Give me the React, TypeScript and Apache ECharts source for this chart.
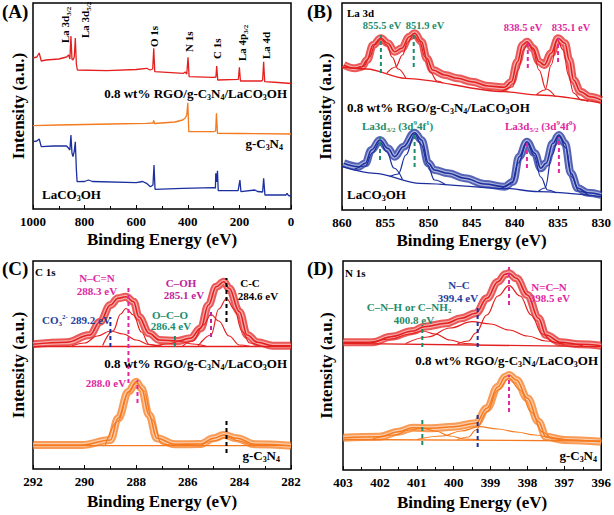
import React, { useEffect, useRef } from 'react';
import * as echarts from 'echarts';

const FONT = 'Liberation Serif';
const RED = '#e3201f';
const ORANGE = '#f57a1f';
const BLUE = '#1c2f9e';
const GREEN = '#1d8c6c';
const MAG = '#e2279f';
const BLUE_TXT = '#22409c';
const PURPLE = '#c0249a';

// ---------- Panel A : survey spectra [binding energy, intensity] ----------
const surveyComposite = [[1000,151],[985,152],[976,156],[968,148],[950,149],[900,150],[870,152],[862,154],[857,150],[853,173],[849,150],[845,149],[840,152],[836,171],[832,145],[828,139],[714,138.3],[600,139.5],[559,140.7],[547,139],[536,140],[532,160.7],[528,137.3],[417,135.7],[410,137],[404,135],[399,151.7],[395,132.3],[301,131.7],[291,132],[288,143],[284,129],[204,129.7],[200,141.7],[196,128],[114,128],[110,129],[106,147.3],[102,127.3],[50,126.5],[0,125.5]];
const surveyGC3N4 = [[1000,83.3],[900,84],[800,84.5],[700,85],[560,85.7],[535,86],[532,88.5],[529,85.5],[450,87],[420,89],[410,91],[404,94],[400,106.3],[396,77.3],[300,77.3],[292,78],[289,95.7],[285,75.7],[200,75.5],[0,75]];
const surveyLaCO3OH = [[1000,67.3],[985,68],[976,70],[968,62.3],[920,63],[870,63],[862,60.7],[857,59],[853,74],[849,56],[845,52.3],[840,58],[836,67.3],[832,40],[829,27.3],[800,27.5],[785,29],[770,27.5],[600,26.3],[575,27.5],[560,25.7],[545,22.3],[535,24],[531,44],[527,19.7],[420,20.7],[300,21.3],[293,21],[291.5,35.7],[288,27],[285,38.3],[282,18.3],[205,18.3],[198,29],[194,17.3],[140,19],[130,17.5],[110,17],[106,30.7],[101,14],[20,14],[15,15.7],[10,13.5],[0,13]];

// ---------- Panel B : La 3d ----------
const laCompEnvelope = [[859.8,145],[858.5,141.7],[857.7,143.3],[857.1,150],[856.4,165],[855.5,171.7],[854.7,166.7],[853.9,158.3],[853.1,161.7],[852.2,173.3],[851.6,176.7],[850.8,168.3],[850.2,151.7],[849.5,140],[848.1,135],[846.6,131.7],[845.0,128.3],[843.1,124],[841.2,122.7],[840.4,128.3],[839.7,148.3],[839.1,165],[838.6,168.3],[837.9,161.7],[837.2,148.3],[836.6,145],[835.8,156.7],[835.0,171.7],[834.2,166.7],[833.7,150],[833.2,130],[832.4,118.3],[831.3,113.3],[830.0,110]];
const laCompBackground = [[860,143],[857.1,141],[852.7,131.7],[841.2,118.3],[837.3,115],[830,107]];
const laCompPeak1 = [[858.5,141.5],[857.5,143.5],[856.8,153],[856.2,165],[855.5,170.5],[854.8,165],[854.2,153],[853.5,141],[852.6,131.5]];
const laCompPeak2 = [[854.8,137],[853.8,143],[853.0,155],[852.4,168],[851.7,175],[851.0,168],[850.4,153],[849.8,138],[849.0,129],[848.3,127]];
const laCompPeak3 = [[841.5,118.5],[840.3,123],[839.6,140],[839.0,160],[838.5,167],[837.9,160],[837.2,140],[836.4,121],[835.3,113]];
const laCompPeak4 = [[837.5,115.2],[836.5,120],[835.8,145],[835.1,170],[834.4,160],[833.8,135],[833.2,117],[832.3,110],[831.5,108.6]];
const laRefEnvelope = [[859.8,46.7],[858.1,43.3],[857.3,46.7],[856.6,60],[855.6,70],[854.7,61.7],[853.9,53.3],[852.9,63.3],[851.6,77.3],[850.8,70],[850.0,46.7],[849.3,40],[847.7,36.7],[845.8,31.7],[843.5,26],[841.2,23.3],[840.2,28.3],[839.5,53.3],[838.6,68.3],[837.7,56.7],[837.0,41.7],[836.4,46.7],[835.6,66.7],[834.9,75],[834.2,66.7],[833.5,36.7],[832.7,21.7],[831.6,17.3],[830.0,15]];
const laRefBackground = [[860,43.3],[856.2,36.7],[851,26.7],[841.2,21.7],[837.3,18.3],[830,13.3]];
const laRefPeak1 = [[858.5,41],[857.3,44],[856.5,57],[855.6,68],[854.8,58],[854,42],[853,30.5]];
const laRefPeak2 = [[854.5,33.4],[853.5,36],[852.6,55],[851.6,76],[850.8,65],[850.1,45],[849.3,30],[848,25.2]];
const laRefPeak3 = [[841.5,22],[840.4,26],[839.6,47],[838.6,67],[837.8,55],[837.0,33],[836.2,20],[835.2,17]];
const laRefPeak4 = [[837.3,18.5],[836.5,22],[835.7,55],[834.9,74],[834.1,62],[833.4,33],[832.6,19],[831.5,15]];
// dashed markers [energy, from, to]
const laMarkGreen = [[855.5,137,175],[851.7,143,178],[855.6,50,73],[851.6,43,78]];
const laMarkMag = [[838.5,142,170],[835.0,148,172],[838.6,42,68],[834.9,37,73]];

// ---------- Panel C : C 1s ----------
const c1sCompEnvelope = [[292,124.7],[290.7,126.7],[289.8,134],[289.4,147.3],[289.0,164],[288.7,170.7],[288.4,172.3],[288.1,167.3],[287.9,152.3],[287.5,135.7],[287.1,129],[286.4,128],[285.9,130.7],[285.5,140.7],[285.2,164],[284.9,182.3],[284.6,187.3],[284.4,180.7],[284.0,157.3],[283.7,134],[283.3,126.7],[282.7,123.3],[282,123.3]];
const c1sCompBaseline = [[292,122.5],[282,122.5]];
const c1sCO3 = [[290.5,123],[290,126],[289.5,133],[289,138],[288.5,135],[288,129],[287.5,124.5],[287,122.8]];
const c1sNCN = [[289.3,123.5],[288.9,138],[288.6,155],[288.4,160.5],[288.1,154],[287.8,137],[287.5,124.5],[287.2,122.8]];
const c1sOCO = [[287.3,122.8],[286.8,125],[286.3,127.5],[285.8,125],[285.3,122.8]];
const c1sCOH = [[286.2,123],[285.8,128],[285.4,144],[285.1,154.5],[284.8,148],[284.4,133],[284.0,124],[283.6,122.6]];
const c1sCC = [[285.6,123],[285.1,134],[284.8,160],[284.5,170.5],[284.2,160],[283.9,138],[283.6,126],[283.2,122.7]];
const c1sRefEnvelope = [[292,24],[290.1,24],[289.0,29],[288.7,50.7],[288.3,77.3],[288.0,87.3],[287.8,80.7],[287.5,54],[287.2,30.7],[286.5,24.7],[285.5,25],[285.0,30.7],[284.6,34],[284.1,30.7],[283.4,24.7],[282,23.3]];
const c1sRefBaseline = [[292,23.3],[282,23.3]];
const c1sRefPeak1 = [[289.2,23.5],[288.7,48],[288.3,76],[288,86],[287.7,78],[287.4,50],[287.0,25],[286.5,23.3]];
const c1sRefPeak2 = [[285.5,23.5],[285,28],[284.5,32],[284,28],[283.5,24],[283,23.3]];
const c1sMarks = [
  [289.0,122,152,BLUE],[288.3,86,182,MAG],[287.95,66,89,MAG],[286.5,122,136,GREEN],
  [285.1,132,159,PURPLE],[284.5,147,191,'#000'],[284.5,16,49,'#000']
];

// ---------- Panel D : N 1s ----------
const n1sCompEnvelope = [[403,127.7],[402.2,127.7],[401.7,133.3],[401.1,139],[400.8,143.3],[400.2,146.7],[399.8,151.7],[399.4,156.7],[399.1,171.7],[398.8,188.3],[398.6,195.7],[398.5,196.7],[398.3,191.7],[398.0,175],[397.7,151.7],[397.5,135],[397.1,127.7],[396.6,125.7],[396.0,124.3]];
const n1sCompBaseline = [[403,126.7],[396,123.3]];
const n1sCompCNH = [[402.3,127.2],[401.7,131],[401.2,136],[400.85,139],[400.5,136],[400.1,130],[399.7,126.5],[399.3,125.5]];
const n1sCompNC = [[401.3,126.5],[400.7,133],[400.1,142],[399.5,148.3],[399.0,146],[398.5,140],[398.0,134],[397.5,129],[397.0,126],[396.5,124.5]];
const n1sCompNCN = [[399.9,126],[399.6,129],[399.4,137],[399.1,155],[398.8,174],[398.5,184.3],[398.2,174],[397.9,155],[397.6,136],[397.3,128],[397.0,125.5]];
const n1sRefEnvelope = [[403,32.3],[402.0,33.3],[401.5,38.3],[401.1,42.3],[400.6,41.7],[400.0,43.3],[399.4,46.7],[399.1,61.7],[398.8,83.3],[398.6,93.3],[398.5,95],[398.3,90],[398.0,71.7],[397.7,48.3],[397.5,33.3],[397.0,30],[396.0,28.3]];
const n1sRefBaseline = [[403,30.5],[396,29]];
const n1sRefCNH = [[402.2,31],[401.6,35],[401.2,40],[400.85,41.7],[400.5,39],[400.1,34],[399.7,31],[399.3,30.2]];
const n1sRefNC = [[401.0,30.5],[400.3,34],[399.8,39],[399.3,43.3],[398.8,41],[398.3,38],[397.8,35],[397.3,32],[396.8,30],[396.3,29.2]];
const n1sRefNCN = [[399.9,30.5],[399.6,33],[399.4,40],[399.1,58],[398.8,80],[398.5,91.7],[398.2,80],[397.9,58],[397.6,38],[397.3,31],[397.0,29.5]];
const n1sMarks = [
  [400.85,123,145,GREEN],[400.85,25,52,GREEN],[399.35,123,163,BLUE],[399.35,23,58,BLUE],
  [398.5,165,203,MAG],[398.5,58,95,MAG]
];

// axis ranges / ticks
const axA = { min: 0, max: 1000, interval: 200 };
const axB = { min: 830, max: 860, interval: 5 };
const axC = { min: 282, max: 292, interval: 2 };
const axD = { min: 396, max: 403, interval: 1 };

const grids = [
  { left: 33, top: 3, width: 258, height: 206 },
  { left: 342, top: 3, width: 260, height: 207 },
  { left: 33, top: 261, width: 258, height: 208 },
  { left: 343, top: 261, width: 259, height: 209 },
];

function line(data: number[][], gi: number, color: string, width = 1.2, smooth: any = 0.4, z = 3) {
  return {
    type: 'line', xAxisIndex: gi, yAxisIndex: gi, data, symbol: 'none', showSymbol: false,
    smooth, smoothMonotone: 'x', silent: true, z,
    lineStyle: { color, width }, itemStyle: { color },
  };
}
// measured points drawn as a dense band of open circles around the fitted envelope
function envelope(data: number[][], gi: number, color: string) {
  return [
    { ...line(data, gi, color, 8, 0.4, 2), lineStyle: { color, width: 8, opacity: 0.75 } },
    { ...line(data, gi, '#fff', 4, 0.4, 2), lineStyle: { color: '#fff', width: 4, opacity: 0.5 } },
    { ...line(data, gi, color, 1.6, 0.4, 3) },
  ];
}
function dash(x: number, y1: number, y2: number, gi: number, color: string) {
  return {
    type: 'line', xAxisIndex: gi, yAxisIndex: gi, data: [[x, y1], [x, y2]], symbol: 'none',
    silent: true, z: 5, lineStyle: { color, width: 2, type: [4, 3] },
  };
}

function rich(fs: number, color: string) {
  const base = { fontSize: fs, fontWeight: 'bold', fontFamily: FONT, fill: color, lineHeight: fs + 3 };
  return {
    n: base,
    s: { ...base, fontSize: Math.round(fs * 0.62), lineHeight: Math.round(fs * 0.62), verticalAlign: 'bottom' },
    p: { ...base, fontSize: Math.round(fs * 0.62), lineHeight: Math.round(fs * 0.62), verticalAlign: 'top' },
  };
}
function txt(text: string, x: number, y: number, fs: number, color = '#000', align = 'left', rotation = 0) {
  return {
    type: 'text', x, y, rotation, silent: true, z: 10,
    style: { text, rich: rich(fs, color), fontSize: fs, fontWeight: 'bold', fontFamily: FONT, fill: color, align, verticalAlign: 'middle' },
  };
}

const COMPOSITE = '{n|0.8 wt% RGO/g-C}{s|3}{n|N}{s|4}{n|/LaCO}{s|3}{n|OH}';
const GCN = '{n|g-C}{s|3}{n|N}{s|4}';
const LACO = '{n|LaCO}{s|3}{n|OH}';

export default function App() {
  const ref = useRef<HTMLDivElement>(null);
  useEffect(() => {
    document.body.style.margin = '0';
    const chart = echarts.init(ref.current!, null, { renderer: 'svg' });
    const axes = [axA, axB, axC, axD];
    const xAxis = axes.map((a, i) => ({
      type: 'value', gridIndex: i, min: a.min, max: a.max, interval: a.interval, inverse: true,
      name: 'Binding Energy (eV)', nameLocation: 'middle', nameGap: i < 2 ? 22 : 24,
      nameTextStyle: { fontFamily: FONT, fontWeight: 'bold', fontSize: 17, color: '#000' },
      axisLine: { show: false },
      axisTick: { show: true, inside: true, length: 4, lineStyle: { color: '#000', width: 1 } },
      minorTick: { show: true, splitNumber: 2, length: 3, lineStyle: { color: '#000', width: 1 } },
      axisLabel: { fontFamily: FONT, fontWeight: 'bold', fontSize: 13, color: '#000', margin: 6, formatter: (v: number) => String(v) },
      splitLine: { show: false },
    }));
    const yAxis = grids.map((g, i) => ({
      type: 'value', gridIndex: i, min: 0, max: g.height,
      name: 'Intensity (a.u.)', nameLocation: 'middle', nameGap: i % 2 === 0 ? 6 : 8,
      nameTextStyle: { fontFamily: FONT, fontWeight: 'bold', fontSize: 17, color: '#000' },
      axisLine: { show: false }, axisTick: { show: false }, axisLabel: { show: false }, splitLine: { show: false },
    }));

    const series: any[] = [
      line(surveyComposite, 0, RED, 1.3, false),
      line(surveyGC3N4, 0, ORANGE, 1.3, false),
      line(surveyLaCO3OH, 0, BLUE, 1.3, false),

      ...envelope(laCompEnvelope, 1, RED),
      line(laCompBackground, 1, RED, 1.3, 0.3),
      line(laCompPeak1, 1, RED), line(laCompPeak2, 1, RED), line(laCompPeak3, 1, RED), line(laCompPeak4, 1, RED),
      ...envelope(laRefEnvelope, 1, BLUE),
      line(laRefBackground, 1, BLUE, 1.3, 0.3),
      line(laRefPeak1, 1, BLUE), line(laRefPeak2, 1, BLUE), line(laRefPeak3, 1, BLUE), line(laRefPeak4, 1, BLUE),
      ...laMarkGreen.map(m => dash(m[0], m[1], m[2], 1, GREEN)),
      ...laMarkMag.map(m => dash(m[0], m[1], m[2], 1, MAG)),

      ...envelope(c1sCompEnvelope, 2, RED),
      line(c1sCompBaseline, 2, RED, 1.3, false),
      line(c1sCO3, 2, RED), line(c1sNCN, 2, RED), line(c1sOCO, 2, RED), line(c1sCOH, 2, RED), line(c1sCC, 2, RED),
      ...envelope(c1sRefEnvelope, 2, ORANGE),
      line(c1sRefBaseline, 2, ORANGE, 1.3, false),
      line(c1sRefPeak1, 2, ORANGE), line(c1sRefPeak2, 2, ORANGE),
      ...c1sMarks.map(m => dash(m[0] as number, m[1] as number, m[2] as number, 2, m[3] as string)),

      ...envelope(n1sCompEnvelope, 3, RED),
      line(n1sCompBaseline, 3, RED, 1.3, false),
      line(n1sCompCNH, 3, RED), line(n1sCompNC, 3, RED), line(n1sCompNCN, 3, RED),
      ...envelope(n1sRefEnvelope, 3, ORANGE),
      line(n1sRefBaseline, 3, ORANGE, 1.3, false),
      line(n1sRefCNH, 3, ORANGE), line(n1sRefNC, 3, ORANGE), line(n1sRefNCN, 3, ORANGE),
      ...n1sMarks.map(m => dash(m[0] as number, m[1] as number, m[2] as number, 3, m[3] as string)),
    ];

    const R = Math.PI / 2;
    const graphic: any[] = [
      // panel letters
      txt('{n|(A)}', 2, 11, 19), txt('{n|(B)}', 307, 11, 19), txt('{n|(C)}', 2, 268, 19), txt('{n|(D)}', 307, 268, 19),
      // A
      txt('{n|La 3d}{s|3/2}', 65, 43, 11, '#000', 'left', R),
      txt('{n|La 3d}{s|5/2}', 85, 38, 11, '#000', 'left', R),
      txt('{n|O 1s}', 154, 47, 11, '#000', 'left', R),
      txt('{n|N 1s}', 189, 52, 11, '#000', 'left', R),
      txt('{n|C 1s}', 217, 59, 11, '#000', 'left', R),
      txt('{n|La 4p}{s|3/2}', 242, 61, 11, '#000', 'left', R),
      txt('{n|La 4d}', 266, 59, 11, '#000', 'left', R),
      txt(COMPOSITE, 287, 93, 13, '#000', 'right'),
      txt(GCN, 283, 143, 13, '#000', 'right'),
      txt(LACO, 42, 194, 13),
      // B
      txt('{n|La 3d}', 347, 13, 11),
      txt('{n|855.5 eV}', 382, 25, 10.5, GREEN, 'center'),
      txt('{n|851.9 eV}', 425, 25, 10.5, GREEN, 'center'),
      txt('{n|838.5 eV}', 523, 27, 10.5, MAG, 'center'),
      txt('{n|835.1 eV}', 571, 27, 10.5, MAG, 'center'),
      txt(COMPOSITE, 347, 107, 13),
      txt('{n|La3d}{s|3/2}{n| (3d}{p|9}{n|4f}{p|1}{n|)}', 362, 126, 11, GREEN),
      txt('{n|La3d}{s|5/2}{n| (3d}{p|9}{n|4f}{p|0}{n|)}', 505, 126, 11, MAG),
      txt(LACO, 347, 194, 13),
      // C
      txt('{n|C 1s}', 35, 272, 11),
      txt('{n|N–C=N}', 97, 278, 11, MAG, 'center'),
      txt('{n|288.3 eV}', 97, 291, 11, MAG, 'center'),
      txt('{n|C–OH}', 181, 283, 11, PURPLE, 'center'),
      txt('{n|285.1 eV}', 184, 295, 11, PURPLE, 'center'),
      txt('{n|C-C}', 250, 283, 11, '#000', 'center'),
      txt('{n|284.6 eV}', 258, 296, 11, '#000', 'center'),
      txt('{n|O–C–O}', 170, 315, 11, GREEN, 'center'),
      txt('{n|286.4 eV}', 171, 326, 11, GREEN, 'center'),
      txt('{n|CO}{s|3}{p|2-}{n| 289.2 eV}', 42, 320, 11, BLUE_TXT),
      txt(COMPOSITE, 287, 363, 13, '#000', 'right'),
      txt('{n|288.0 eV}', 106, 383, 11, MAG, 'center'),
      txt(GCN, 280, 455, 13, '#000', 'right'),
      // D
      txt('{n|N 1s}', 345, 273, 11),
      txt('{n|C–N–H or C–NH}{s|2}', 409, 307, 11, GREEN, 'center'),
      txt('{n|400.8 eV}', 414, 320, 11, GREEN, 'center'),
      txt('{n|N–C}', 459, 285, 11, BLUE_TXT, 'center'),
      txt('{n|399.4 eV}', 458, 298, 11, BLUE_TXT, 'center'),
      txt('{n|N=C–N}', 549, 287, 11, MAG, 'center'),
      txt('{n|398.5 eV}', 550, 298, 11, MAG, 'center'),
      txt(COMPOSITE, 598, 360, 13, '#000', 'right'),
      txt(GCN, 597, 455, 13, '#000', 'right'),
    ];

    chart.setOption({
      animation: false,
      backgroundColor: '#fff',
      grid: grids.map(g => ({ ...g, show: true, borderColor: '#000', borderWidth: 1.5, backgroundColor: 'transparent', containLabel: false })),
      xAxis, yAxis, series, graphic,
    });
    return () => chart.dispose();
  }, []);
  return <div ref={ref} style={{ width: 614, height: 515 }} />;
}
